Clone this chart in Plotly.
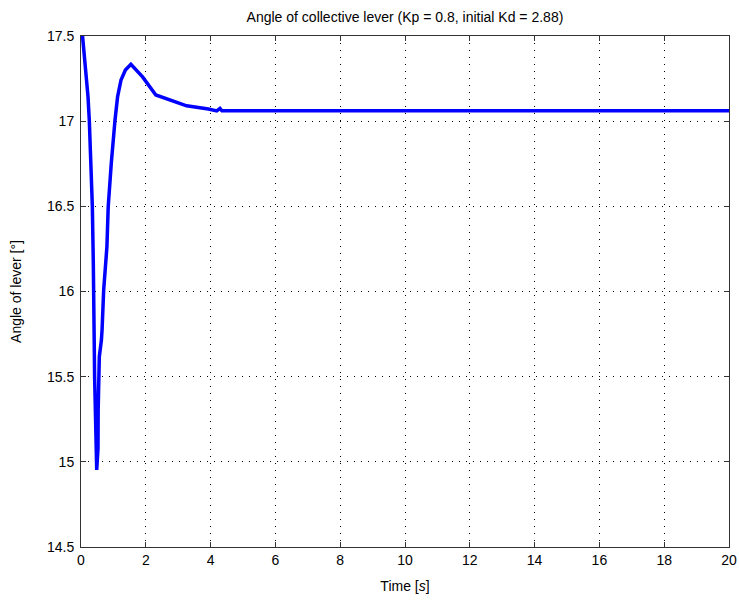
import plotly.graph_objects as go

time_s = [0.0, 0.052, 0.133, 0.216, 0.256, 0.309, 0.34, 0.35, 0.38, 0.385, 0.41, 0.42, 0.485,
          0.525, 0.53, 0.546, 0.565, 0.63, 0.65, 0.70, 0.73, 0.80, 0.84, 0.87, 0.90, 0.935,
          1.05, 1.13, 1.235, 1.37, 1.54, 1.90, 2.31, 2.75, 3.26, 3.93, 4.19, 4.29, 4.35,
          6.0, 10.0, 15.0, 20.0]
angle_deg = [17.6, 17.496, 17.34, 17.144, 17.007, 16.754, 16.596, 16.5, 16.167, 16.009, 15.715, 15.5, 14.952,
             15.08, 15.304, 15.5, 15.617, 15.715, 15.774, 16.009, 16.087, 16.263, 16.498, 16.596, 16.655, 16.754,
             17.007, 17.144, 17.242, 17.30, 17.334, 17.26, 17.154, 17.124, 17.09, 17.071, 17.06, 17.075, 17.061,
             17.061, 17.061, 17.061, 17.061]

x_ticks = list(range(0, 21, 2))
y_ticks = [14.5, 15, 15.5, 16, 16.5, 17, 17.5]
y_tick_text = ["14.5", "15", "15.5", "16", "16.5", "17", "17.5"]

fig = go.Figure()
fig.add_trace(go.Scatter(x=time_s, y=angle_deg, mode="lines",
                         line=dict(color="#0000ff", width=3.5), showlegend=False))

axis_common = dict(showline=True, linecolor="#333333", linewidth=1, mirror="ticks",
                   ticks="inside", ticklen=5, tickcolor="#333333",
                   showgrid=True, gridcolor="#000000", gridwidth=1, griddash="1px,6px",
                   zeroline=False, automargin=False,
                   tickfont=dict(family="Liberation Sans, Arial", size=14, color="#000"))

fig.update_xaxes(range=[0, 20], tickvals=x_ticks,
                 title=dict(text="Time [<i>s</i>]", font=dict(family="Liberation Sans, Arial", size=14, color="#000"), standoff=14),
                 **axis_common)
fig.update_yaxes(range=[14.5, 17.5], tickvals=y_ticks, ticktext=y_tick_text, ticklabelstandoff=3,
                 title=dict(text="Angle of lever [°]", font=dict(family="Liberation Sans, Arial", size=14, color="#000"), standoff=22),
                 **axis_common)

fig.update_layout(
    width=739, height=608,
    margin=dict(l=81, r=10, t=36, b=61),
    paper_bgcolor="white", plot_bgcolor="white",
    title=dict(text="Angle of collective lever (Kp = 0.8, initial Kd = 2.88)",
               x=0.548, xanchor="center", y=0.972, yanchor="middle",
               font=dict(family="Liberation Sans, Arial", size=14, color="#000")),
)

fig.write_html("out.html")
